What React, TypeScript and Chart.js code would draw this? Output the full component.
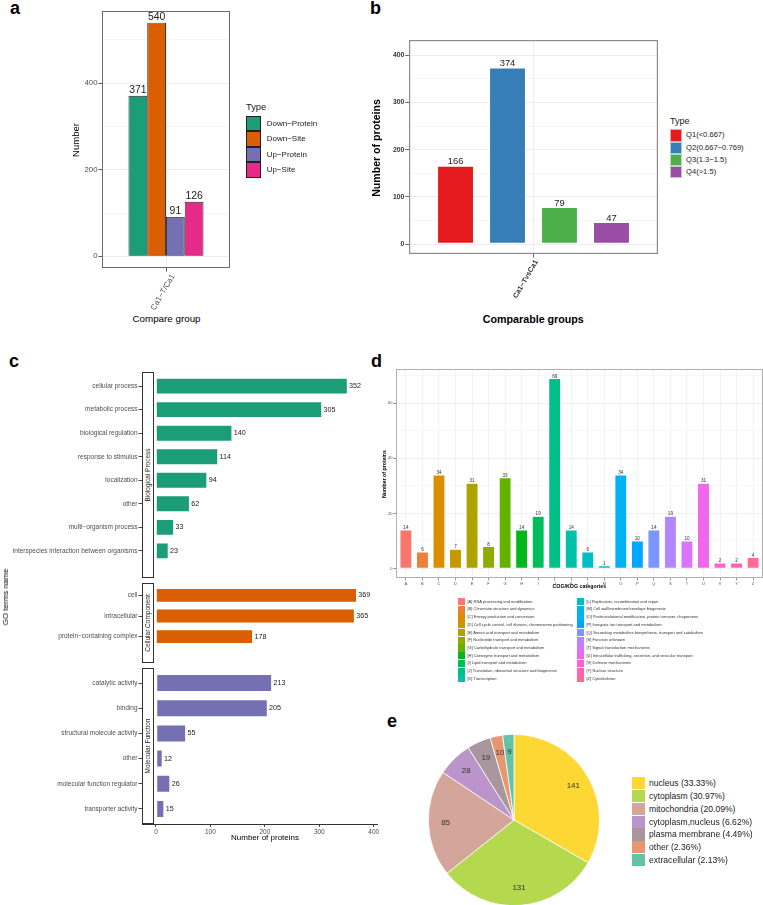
import React, { useEffect, useRef } from 'react';
import { Chart, registerables } from 'chart.js';

Chart.register(...registerables);

const FONT = "'Liberation Sans', Arial, Helvetica, sans-serif";
Chart.defaults.font.family = FONT;

// ---- a: differentially modified proteins and sites
const groupA = ['Ca1−T/Ca1'];
const typesA = ['Down−Protein', 'Down−Site', 'Up−Protein', 'Up−Site'];
const countsA = [371, 540, 91, 126];
const coloursA = ['#1B9E77', '#D95F02', '#7570B3', '#E7298A'];
const yGridA = [0, 100, 200, 300, 400, 500];
const yLabelsA = [0, 200, 400];

// ---- b: proteins per fold-change bin
const groupB = ['Ca1−TvsCa1'];
const typesB = ['Q1(<0.667)', 'Q2(0.667−0.769)', 'Q3(1.3−1.5)', 'Q4(>1.5)'];
const countsB = [166, 374, 79, 47];
const coloursB = ['#E41A1C', '#377EB8', '#4DAF4A', '#984EA3'];
const yGridB = [0, 50, 100, 150, 200, 250, 300, 350, 400];
const yLabelsB = [0, 100, 200, 300, 400];

// ---- c: GO terms by ontology
const bpTerms = [
  'cellular process',
  'metabolic process',
  'biological regulation',
  'response to stimulus',
  'localization',
  'other',
  'multi−organism process',
  'interspecies interaction between organisms',
];
const bpCounts = [352, 305, 140, 114, 94, 62, 33, 23];
const ccTerms = ['cell', 'intracellular', 'protein−containing complex'];
const ccCounts = [369, 365, 178];
const mfTerms = [
  'catalytic activity',
  'binding',
  'structural molecule activity',
  'other',
  'molecular function regulator',
  'transporter activity',
];
const mfCounts = [213, 205, 55, 12, 26, 15];
const goColours = { bp: '#1B9E77', cc: '#D95F02', mf: '#7570B3' };
const xTicksC = [0, 100, 200, 300, 400];

// ---- d: COG/KOG functional classes
const cogCodes = ['A', 'B', 'C', 'D', 'E', 'F', 'G', 'H', 'I', 'J', 'K', 'L', 'M', 'O', 'P', 'Q', 'S', 'T', 'U', 'V', 'Y', 'Z'];
const cogCounts = [14, 6, 34, 7, 31, 8, 33, 14, 19, 69, 14, 6, 1, 34, 10, 14, 19, 10, 31, 2, 2, 4];
const cogNames = [
  '[A] RNA processing and modification',
  '[B] Chromatin structure and dynamics',
  '[C] Energy production and conversion',
  '[D] Cell cycle control, cell division, chromosome partitioning',
  '[E] Amino acid transport and metabolism',
  '[F] Nucleotide transport and metabolism',
  '[G] Carbohydrate transport and metabolism',
  '[H] Coenzyme transport and metabolism',
  '[I] Lipid transport and metabolism',
  '[J] Translation, ribosomal structure and biogenesis',
  '[K] Transcription',
  '[L] Replication, recombination and repair',
  '[M] Cell wall/membrane/envelope biogenesis',
  '[O] Posttranslational modification, protein turnover, chaperones',
  '[P] Inorganic ion transport and metabolism',
  '[Q] Secondary metabolites biosynthesis, transport and catabolism',
  '[S] Function unknown',
  '[T] Signal transduction mechanisms',
  '[U] Intracellular trafficking, secretion, and vesicular transport',
  '[V] Defense mechanisms',
  '[Y] Nuclear structure',
  '[Z] Cytoskeleton',
];
const yGridD = [0, 10, 20, 30, 40, 50, 60, 70];
const yLabelsD = [0, 20, 40, 60];

// ---- e: subcellular localisation
const locNames = ['nucleus', 'cytoplasm', 'mitochondria', 'cytoplasm,nucleus', 'plasma membrane', 'other', 'extracellular'];
const locCounts = [141, 131, 85, 28, 19, 10, 9];
const locPercents = ['33.33%', '30.97%', '20.09%', '6.62%', '4.49%', '2.36%', '2.13%'];
const locColours = ['#FDD835', '#B4D84E', '#D3A59B', '#BA94CA', '#A9959C', '#E69772', '#64C3A4'];

// ggplot-style evenly spaced HCL hues (l = 65, c = 100)
function hueColour(h: number): string {
  const L = 65;
  const C = 100;
  const hr = (h * Math.PI) / 180;
  const U = C * Math.cos(hr);
  const V = C * Math.sin(hr);
  const Y = Math.pow((L + 16) / 116, 3);
  const u = U / (13 * L) + 0.1978398;
  const v = V / (13 * L) + 0.4683363;
  const X = (9 * Y * u) / (4 * v);
  const Z = (Y * (12 - 3 * u - 20 * v)) / (4 * v);
  const lin = [
    3.240479 * X - 1.53715 * Y - 0.498535 * Z,
    -0.969256 * X + 1.875992 * Y + 0.041556 * Z,
    0.055648 * X - 0.204043 * Y + 1.057311 * Z,
  ];
  return (
    '#' +
    lin
      .map((c) => {
        const g = c <= 0.0031308 ? 12.92 * c : 1.055 * Math.pow(c, 1 / 2.4) - 0.055;
        const n = Math.round(Math.min(1, Math.max(0, g)) * 255);
        return n.toString(16).padStart(2, '0');
      })
      .join('')
  );
}
const cogColours = cogCodes.map((_, i) => hueColour(15 + (360 * i) / cogCodes.length));

// ---- shared chart pieces
const baseOptions = {
  responsive: false,
  maintainAspectRatio: false,
  animation: false,
  devicePixelRatio: 1,
  events: [],
  layout: { padding: 0, autoPadding: false },
};
const quietPlugins = { legend: { display: false }, tooltip: { enabled: false } };

// fixes an axis to a set thickness so the plot area lands where it should
const fixedAxis = (size: number) => (scale: any) => {
  if (scale.isHorizontal()) scale.height = size;
  else scale.width = size;
  scale.paddingTop = 0;
  scale.paddingBottom = 0;
  scale.paddingLeft = 0;
  scale.paddingRight = 0;
};

// puts ticks exactly on the listed values
const tickAt = (values: number[]) => (scale: any) => {
  scale.ticks = values.map((value) => ({ value }));
};
const labelIf = (labels: number[]) => (v: number) => (labels.includes(v) ? String(v) : '');
const majorOnly = (labels: number[], on: any, off: any) => (c: any) =>
  c.tick && labels.includes(c.tick.value) ? on : off;

const framePlugin = {
  id: 'frame',
  afterDraw(chart: any, _args: any, opts: any) {
    if (!opts || !opts.color) return;
    const { ctx, chartArea: a } = chart;
    const w = opts.width || 1;
    ctx.save();
    ctx.strokeStyle = opts.color;
    ctx.lineWidth = w;
    ctx.strokeRect(a.left + w / 2, a.top + w / 2, a.right - a.left - w, a.bottom - a.top - w);
    ctx.restore();
  },
};

const valueLabelPlugin = {
  id: 'valueLabels',
  afterDatasetsDraw(chart: any, _args: any, opts: any) {
    if (!opts || !opts.size) return;
    const ctx = chart.ctx;
    const horizontal = chart.options.indexAxis === 'y';
    const gap = opts.gap ?? 2;
    ctx.save();
    ctx.font = `${opts.size}px ${FONT}`;
    ctx.fillStyle = opts.color || '#1a1a1a';
    chart.data.datasets.forEach((_ds: any, di: number) => {
      const meta = chart.getDatasetMeta(di);
      meta.data.forEach((bar: any, i: number) => {
        const parsed = meta.controller.getParsed(i);
        const v = horizontal ? parsed.x : parsed.y;
        if (horizontal) {
          ctx.textAlign = 'left';
          ctx.textBaseline = 'middle';
          ctx.fillText(String(v), bar.x + gap, bar.y);
        } else {
          ctx.textAlign = 'center';
          ctx.textBaseline = 'alphabetic';
          ctx.fillText(String(v), bar.x, bar.y - gap);
        }
      });
    });
    ctx.restore();
  },
};

const sliceLabelPlugin = {
  id: 'sliceLabels',
  afterDatasetsDraw(chart: any, _args: any, opts: any) {
    if (!opts || !opts.size) return;
    const ctx = chart.ctx;
    const meta = chart.getDatasetMeta(0);
    const values = chart.data.datasets[0].data;
    ctx.save();
    ctx.font = `${opts.size}px ${FONT}`;
    ctx.fillStyle = opts.color || '#333';
    ctx.textAlign = 'center';
    ctx.textBaseline = 'middle';
    meta.data.forEach((arc: any, i: number) => {
      const p = arc.getProps(['x', 'y', 'startAngle', 'endAngle', 'outerRadius'], true);
      const mid = (p.startAngle + p.endAngle) / 2;
      const r = p.outerRadius * opts.at;
      ctx.fillText(String(values[i]), p.x + r * Math.cos(mid), p.y + r * Math.sin(mid));
    });
    ctx.restore();
  },
};

const GRID = '#ebebeb';
const CLEAR = 'rgba(0,0,0,0)';

// ---- a
const configA = () => ({
  type: 'bar',
  data: {
    labels: groupA,
    datasets: typesA.map((t, i) => ({
      label: t,
      data: [countsA[i]],
      backgroundColor: coloursA[i],
      borderColor: '#222222',
      borderWidth: 0.9,
      borderSkipped: false,
      categoryPercentage: 0.586,
      barPercentage: 1,
    })),
  },
  options: {
    ...baseOptions,
    plugins: {
      ...quietPlugins,
      valueLabels: { size: 10.4, gap: 2.6, color: '#1a1a1a' },
      frame: { color: '#6b6b6b', width: 1 },
    },
    scales: {
      x: {
        offset: true,
        grid: { offset: false, color: GRID, lineWidth: 0.9, tickColor: '#444', tickLength: 3.5 },
        border: { display: false },
        ticks: {
          minRotation: 60,
          maxRotation: 60,
          labelOffset: 7,
          color: '#4d4d4d',
          font: { size: 7.8 },
          padding: 1,
        },
        afterFit: fixedAxis(45),
      },
      y: {
        min: -27,
        max: 567,
        afterBuildTicks: tickAt(yGridA),
        grid: {
          color: GRID,
          lineWidth: majorOnly(yLabelsA, 0.9, 0.5),
          tickColor: majorOnly(yLabelsA, '#444', CLEAR),
          tickLength: 3.5,
        },
        border: { display: false },
        ticks: { callback: labelIf(yLabelsA), color: '#4d4d4d', font: { size: 7.8 }, padding: 1 },
        afterFit: fixedAxis(42),
      },
    },
  },
  plugins: [valueLabelPlugin, framePlugin],
});

// ---- b
const configB = () => ({
  type: 'bar',
  data: {
    labels: groupB,
    datasets: typesB.map((t, i) => ({
      label: t,
      data: [countsB[i]],
      backgroundColor: coloursB[i],
      borderColor: 'rgba(255,255,255,0.55)',
      borderWidth: 1,
      borderSkipped: false,
      categoryPercentage: 0.835,
      barPercentage: 0.71,
    })),
  },
  options: {
    ...baseOptions,
    plugins: {
      ...quietPlugins,
      valueLabels: { size: 9.4, gap: 1.3, color: '#1a1a1a' },
      frame: { color: '#8c8c8c', width: 1.2 },
    },
    scales: {
      x: {
        offset: true,
        grid: { offset: false, color: GRID, lineWidth: 0.9, tickColor: '#555', tickLength: 3.5 },
        border: { display: false },
        ticks: {
          minRotation: 60,
          maxRotation: 60,
          labelOffset: 3,
          color: '#333',
          font: { size: 7.2, weight: 'bold' },
          padding: 1,
        },
        afterFit: fixedAxis(45),
      },
      y: {
        min: -20.57,
        max: 432,
        afterBuildTicks: tickAt(yGridB),
        grid: {
          color: GRID,
          lineWidth: majorOnly(yLabelsB, 0.9, 0.5),
          tickColor: majorOnly(yLabelsB, '#555', CLEAR),
          tickLength: 3.7,
        },
        border: { display: false },
        ticks: { callback: labelIf(yLabelsB), color: '#333', font: { size: 6.8, weight: 'bold' }, padding: 1 },
        afterFit: fixedAxis(30),
      },
    },
  },
  plugins: [valueLabelPlugin, framePlugin],
});

// ---- c (one chart per ontology facet)
const configGO = (terms: string[], counts: number[], colour: string, showAxis: boolean) => () => ({
  type: 'bar',
  data: {
    datasets: [
      {
        data: counts.map((v, i) => ({ x: v, y: i })),
        backgroundColor: colour,
        borderColor: 'rgba(255,255,255,0.5)',
        borderWidth: 0.8,
        borderSkipped: false,
        barPercentage: 0.7,
        categoryPercentage: 1,
      },
    ],
  },
  options: {
    ...baseOptions,
    layout: { padding: { right: showAxis ? 8 : 0 }, autoPadding: false },
    indexAxis: 'y',
    plugins: { ...quietPlugins, valueLabels: { size: 7.2, gap: 1.5, color: '#1a1a1a' } },
    scales: {
      x: {
        type: 'linear',
        min: -25.7,
        max: 406,
        display: showAxis,
        offset: false,
        afterBuildTicks: tickAt(xTicksC),
        grid: { drawOnChartArea: false, offset: false, tickLength: 3, tickColor: '#333', lineWidth: 0.9 },
        border: { display: true, color: '#333', width: 1 },
        ticks: { color: '#4d4d4d', font: { size: 6.5 }, padding: 1 },
        afterFit: fixedAxis(14),
      },
      y: {
        type: 'linear',
        reverse: true,
        min: -0.6,
        max: terms.length - 0.4,
        offset: false,
        afterBuildTicks: tickAt(terms.map((_, i) => i)),
        grid: { drawOnChartArea: false, offset: false, tickLength: 3.5, tickColor: '#333', lineWidth: 0.9 },
        border: { display: false },
        ticks: {
          autoSkip: false,
          callback: (v: number) => terms[v],
          color: '#4d4d4d',
          font: { size: 6.5 },
          padding: 1,
        },
        afterFit: fixedAxis(142),
      },
    },
  },
  plugins: [valueLabelPlugin],
});

// ---- d
const configD = () => ({
  type: 'bar',
  data: {
    datasets: [
      {
        data: cogCounts.map((v, i) => ({ x: i, y: v })),
        backgroundColor: cogColours,
        borderColor: 'rgba(255,255,255,0.6)',
        borderWidth: 0.5,
        borderSkipped: false,
        barPercentage: 0.72,
        categoryPercentage: 1,
      },
    ],
  },
  options: {
    ...baseOptions,
    plugins: {
      ...quietPlugins,
      valueLabels: { size: 4.6, gap: 0.8, color: '#333' },
      frame: { color: '#b0b0b0', width: 1 },
    },
    scales: {
      x: {
        type: 'linear',
        min: -0.6,
        max: 21.6,
        offset: false,
        afterBuildTicks: tickAt(cogCodes.map((_, i) => i)),
        grid: { offset: false, color: GRID, lineWidth: 0.6, tickLength: 2.5, tickColor: '#555' },
        border: { display: false },
        ticks: {
          autoSkip: false,
          maxRotation: 0,
          callback: (v: number) => cogCodes[v],
          color: '#4d4d4d',
          font: { size: 4 },
          padding: 1,
        },
        afterFit: fixedAxis(8),
      },
      y: {
        min: -3.45,
        max: 72.45,
        afterBuildTicks: tickAt(yGridD),
        grid: {
          color: GRID,
          lineWidth: majorOnly(yLabelsD, 0.7, 0.4),
          tickColor: majorOnly(yLabelsD, '#555', CLEAR),
          tickLength: 2.5,
        },
        border: { display: false },
        ticks: { callback: labelIf(yLabelsD), color: '#4d4d4d', font: { size: 4 }, padding: 1 },
        afterFit: fixedAxis(10),
      },
    },
  },
  plugins: [valueLabelPlugin, framePlugin],
});

// ---- e
const configE = () => ({
  type: 'pie',
  data: {
    labels: locNames,
    datasets: [{ data: locCounts, backgroundColor: locColours, borderColor: '#ffffff', borderWidth: 0.8 }],
  },
  options: {
    ...baseOptions,
    plugins: { ...quietPlugins, sliceLabels: { size: 8, color: '#333', at: 0.8 } },
  },
  plugins: [sliceLabelPlugin],
});

function ChartBox(props: { left: number; top: number; width: number; height: number; make: () => any }) {
  const { left, top, width, height, make } = props;
  const ref = useRef<HTMLCanvasElement | null>(null);
  useEffect(() => {
    const chart = new Chart(ref.current as HTMLCanvasElement, make());
    return () => chart.destroy();
  }, []);
  return (
    <canvas
      ref={ref}
      width={width}
      height={height}
      style={{ position: 'absolute', left, top, width, height }}
    />
  );
}

type TextProps = {
  x: number;
  y: number;
  size: number;
  children: React.ReactNode;
  bold?: boolean;
  anchor?: 'start' | 'middle' | 'end';
  rotate?: number;
  color?: string;
};

// text placed by its vertical centre line
function T({ x, y, size, children, bold, anchor = 'start', rotate = 0, color = '#000' }: TextProps) {
  const tx = anchor === 'middle' ? '-50%' : anchor === 'end' ? '-100%' : '0';
  return (
    <div
      style={{
        position: 'absolute',
        left: x,
        top: y,
        fontSize: size,
        fontWeight: bold ? 700 : 400,
        color,
        lineHeight: 1,
        whiteSpace: 'nowrap',
        transformOrigin: '0 0',
        transform: `rotate(${rotate}deg) translate(${tx}, -50%)`,
      }}
    >
      {children}
    </div>
  );
}

function Swatch(props: { x: number; y: number; w: number; h: number; fill: string; stroke?: string }) {
  const { x, y, w, h, fill, stroke } = props;
  return (
    <div
      style={{
        position: 'absolute',
        left: x,
        top: y,
        width: w,
        height: h,
        background: fill,
        boxSizing: 'border-box',
        border: stroke ? `0.9px solid ${stroke}` : 'none',
      }}
    />
  );
}

function Strip(props: { top: number; height: number; label: string }) {
  const { top, height, label } = props;
  return (
    <>
      <div
        style={{
          position: 'absolute',
          left: 142,
          top,
          width: 12,
          height,
          boxSizing: 'border-box',
          border: '1px solid #333',
          background: '#fff',
        }}
      />
      <T x={148} y={top + height / 2} size={6.5} anchor="middle" rotate={-90} color="#1a1a1a">
        {label}
      </T>
    </>
  );
}

export default function App() {
  return (
    <div
      style={{
        position: 'fixed',
        left: 0,
        top: 0,
        width: 763,
        height: 905,
        background: '#fff',
        overflow: 'hidden',
        fontFamily: FONT,
      }}
    >
      <ChartBox left={60} top={11} width={170} height={302} make={configA} />
      <ChartBox left={379} top={40} width={279} height={259} make={configB} />
      <ChartBox left={0} top={372} width={377} height={207} make={configGO(bpTerms, bpCounts, goColours.bp, false)} />
      <ChartBox left={0} top={583} width={377} height={80} make={configGO(ccTerms, ccCounts, goColours.cc, false)} />
      <ChartBox left={0} top={668} width={385} height={170} make={configGO(mfTerms, mfCounts, goColours.mf, true)} />
      <ChartBox left={386} top={369} width={377} height={217} make={configD} />
      <ChartBox left={428} top={734} width={172} height={172} make={configE} />

      {/* panel letters */}
      <T x={10} y={7.8} size={18} bold>a</T>
      <T x={370} y={7.8} size={18} bold>b</T>
      <T x={9} y={360.8} size={18} bold>c</T>
      <T x={371} y={360.8} size={18} bold>d</T>
      <T x={387} y={720.8} size={18} bold>e</T>

      {/* a titles and legend */}
      <T x={76.3} y={140} size={9.5} anchor="middle" rotate={-90}>Number</T>
      <T x={166.5} y={319} size={9.8} anchor="middle">Compare group</T>
      <T x={246} y={107.5} size={9.3} color="#1a1a1a">Type</T>
      {typesA.map((t, i) => (
        <React.Fragment key={t}>
          <Swatch x={246} y={116 + i * 15.4} w={14.7} h={15.4} fill={coloursA[i]} stroke="#222" />
          <T x={266.7} y={116 + i * 15.4 + 7.7} size={8} color="#1a1a1a">{t}</T>
        </React.Fragment>
      ))}

      {/* b titles and legend */}
      <T x={375.5} y={147.5} size={10.6} bold anchor="middle" rotate={-90}>Number of proteins</T>
      <T x={533.3} y={318.8} size={10.7} bold anchor="middle">Comparable groups</T>
      <T x={670} y={121} size={9} color="#1a1a1a">Type</T>
      {typesB.map((t, i) => (
        <React.Fragment key={t}>
          <Swatch x={670} y={129.3 + i * 12.3} w={12} h={12.3} fill={coloursB[i]} stroke="rgba(255,255,255,0.6)" />
          <T x={686} y={129.3 + i * 12.3 + 6.15} size={7.6} color="#1a1a1a">{t}</T>
        </React.Fragment>
      ))}

      {/* c facets and titles */}
      <Strip top={372} height={206} label="Biological Process" />
      <Strip top={583} height={80} label="Cellular Component" />
      <Strip top={668} height={156} label="Molecular Function" />
      <T x={5.5} y={597} size={8} anchor="middle" rotate={-90}>GO terms name</T>
      <T x={265} y={838.3} size={8} anchor="middle">Number of proteins</T>

      {/* d titles and legend */}
      <T x={385} y={474} size={5.2} bold anchor="middle" rotate={-90}>Number of proteins</T>
      <T x={579.3} y={587.3} size={5.3} bold anchor="middle">COG/KOG categories</T>
      {cogNames.map((n, i) => {
        const col = i < 11 ? 0 : 1;
        const row = i % 11;
        const bx = col === 0 ? 457.7 : 576.7;
        const ty = 598 + row * 7.73;
        return (
          <React.Fragment key={n}>
            <Swatch x={bx} y={ty} w={7.3} h={7.2} fill={cogColours[i]} />
            <T x={bx + 9.8} y={ty + 3.6} size={4} color="#333">{n}</T>
          </React.Fragment>
        );
      })}

      {/* e legend */}
      {locNames.map((n, i) => (
        <React.Fragment key={n}>
          <Swatch x={632} y={777.3 + i * 12.77} w={12.5} h={12.2} fill={locColours[i]} />
          <T x={649} y={777.3 + i * 12.77 + 6.1} size={8.6} color="#1a1a1a">{`${n} (${locPercents[i]})`}</T>
        </React.Fragment>
      ))}
    </div>
  );
}
